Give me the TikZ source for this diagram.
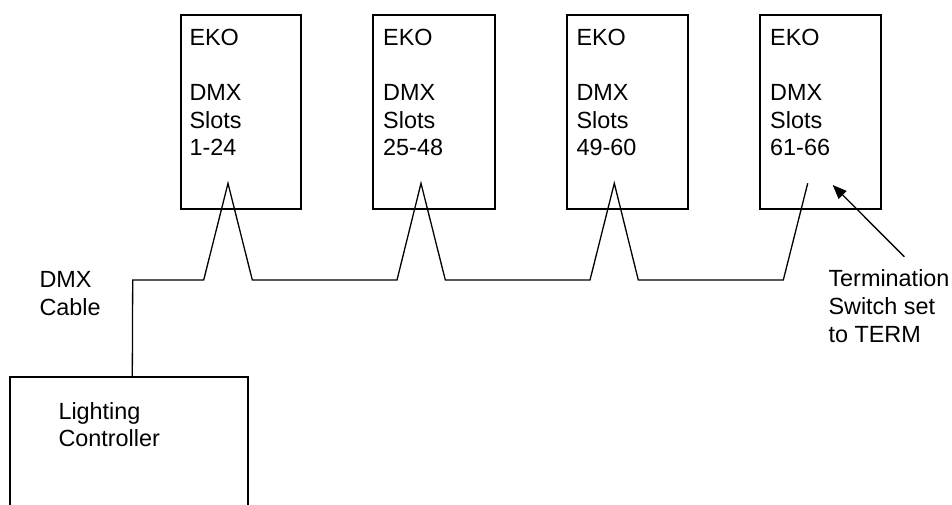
\documentclass[tikz,border=0pt]{standalone}
\usepackage{fontspec}
\setmainfont{Liberation Sans}
\usetikzlibrary{arrows.meta}
\begin{document}
\begin{tikzpicture}[x=1pt,y=-1pt,
  ekobox/.style={draw,line width=1.8pt,minimum width=120pt,minimum height=194pt,anchor=north west,inner sep=0pt},
  lbl/.style={font=\fontsize{23.4}{27.7}\selectfont,align=left,anchor=base west,inner sep=0pt},
  cable/.style={line width=1.3pt,line join=miter}]
\useasboundingbox (0,0) rectangle (952,505);
% EKO boxes
\node[ekobox] (b1) at (180,14) {};
\node[ekobox,minimum width=121.7pt] (b2) at (372.3,14) {};
\node[ekobox,minimum width=121pt] (b3) at (565.7,14) {};
\node[ekobox,minimum width=121.3pt] (b4) at (758.7,14) {};
\node[lbl] (t1) at (189.3,156) {EKO\\[27.7pt]DMX\\Slots\\1-24};
\node[lbl] (t2) at (383,156) {EKO\\[27.7pt]DMX\\Slots\\25-48};
\node[lbl] (t3) at (576.3,156) {EKO\\[27.7pt]DMX\\Slots\\49-60};
\node[lbl] (t4) at (770,156) {EKO\\[27.7pt]DMX\\Slots\\61-66};
% controller
\coordinate (ctop) at (132.3,376.7);
\draw[line width=1.8pt] (10.3,506) -- (10.3,376.7) -- (248.3,376.7) -- (248.3,506);
\node[lbl] (lc) at (58.3,446.7) {Lighting\\Controller};
\node[lbl] (dc) at (39.3,315) {DMX\\Cable};
\node[lbl] (tm) at (828.3,342) {Termination\\Switch set\\to TERM};
% cable
\coordinate (c0) at (132.7,280);
\draw[cable] (ctop) -- (c0) -- (203.7,280) -- (228,183.3) -- (252.3,280)
  -- (397,280) -- (421,183.3) -- (445.3,280)
  -- (590,280) -- (614.3,183.3) -- (638.3,280)
  -- (783.3,280) -- (807.7,183.3);
% arrow
\coordinate (atail) at (904.3,256.7);
\coordinate (ahead) at (832.7,185);
\draw[line width=1.3pt,-{Triangle[length=14pt,width=11pt]}] (atail) -- (ahead);
\end{tikzpicture}
\end{document}
